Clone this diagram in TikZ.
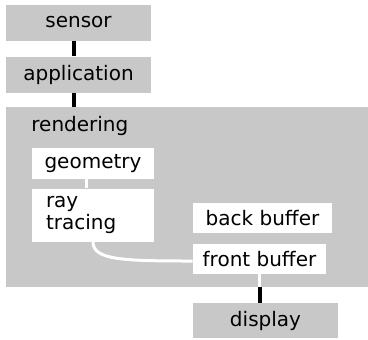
\documentclass[tikz,border=0pt]{standalone}
\usepackage{fontspec}
\setmainfont{DejaVu Sans}
\usetikzlibrary{positioning}
\definecolor{boxGray}{HTML}{C8C8C8}
\tikzset{
  grayBox/.style={rectangle, fill=boxGray, inner sep=0pt,
                  minimum width=72.5pt, minimum height=18pt},
  whiteBox/.style={rectangle, fill=white, inner sep=0pt, minimum height=15pt},
  linkB/.style={draw=black, line width=2pt},
  linkW/.style={draw=white, line width=1.5pt},
}
\begin{document}
\begin{tikzpicture}[x=1pt, y=-1pt, font=\fontsize{10}{11}\selectfont]
    \useasboundingbox (0,0) rectangle (184,169.5);
    % pipeline outside
    \node[grayBox] (sensor) at (39.25,11.25) {sensor};
    \node[grayBox] (app)    at (39.25,37.25) {application};
    \node[rectangle, fill=boxGray, inner sep=0pt, minimum width=181pt,
          minimum height=90pt] (render) at (93.5,98.5) {};
    \node[anchor=west, inner sep=0pt] (renderlbl) at (15.5,63) {rendering};
    % inside rendering
    \node[whiteBox, minimum width=61pt, minimum height=15.5pt] (geo) at (46.5,81.75) {geometry};
    \node[whiteBox, minimum width=61pt, minimum height=26.5pt, text width=47pt,
          inner xsep=7pt, align=left] (ray) at (46.5,107.5) {ray\\tracing};
    \node[whiteBox, minimum width=69.5pt] (back)  at (131.25,109) {back buffer};
    \node[whiteBox, minimum width=66.5pt] (front) at (129.75,129.5) {front buffer};
    \node[grayBox, minimum height=17.5pt] (display) at (132.75,160.25) {display};
    % links
    \draw[linkB] ([xshift=-2.25pt]sensor.south) -- ([xshift=-2.25pt]app.north);
    \draw[linkB] ([xshift=-2.25pt]app.south) -- ([xshift=-2.25pt]app.south |- render.north);
    \draw[linkW] ([xshift=-3.5pt]geo.south) -- ([xshift=-3.5pt]ray.north);
    \draw[linkW] (ray.south) .. controls +(0,9) and +(-35,0) .. ([yshift=-1pt]front.west);
    \draw[linkW] (front.south) -- (front.south |- render.south);
    \draw[linkB] (front.south |- render.south) -- (front.south |- display.north);
\end{tikzpicture}
\end{document}
